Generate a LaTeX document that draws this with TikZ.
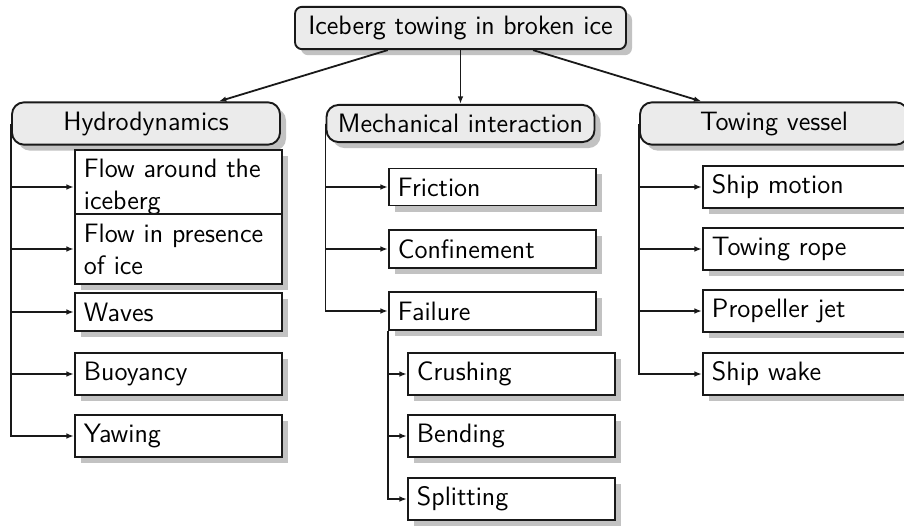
\documentclass[tikz,border=0pt]{standalone}
\usetikzlibrary{shadows,arrows.meta}
\renewcommand\familydefault{\sfdefault}
\begin{document}
\begin{tikzpicture}[x=0.5pt,y=-0.5pt,
  every node/.style={font=\fontsize{13.3}{16}\selectfont\sffamily, draw=black!90, line width=0.95pt, inner xsep=4.5pt, inner ysep=4.6pt},
  shad/.style={drop shadow={shadow xshift=3pt,shadow yshift=-3pt,fill=black!24,opacity=1}},
  topbox/.style={shad, fill=black!8, rounded corners=3.5pt, minimum width=165.5pt},
  catbox/.style={shad, fill=black!8, rounded corners=6pt, minimum width=134pt},
  leaf/.style={shad, fill=white, anchor=west, text width=94.5pt, align=left},
  arr/.style={line width=0.9pt, draw=black!90, -{Latex[length=3.8pt,width=2.8pt]}}]
\useasboundingbox (0,0) rectangle (904,525);
\clip (0,0) rectangle (904,525);

\node[topbox] (top) at (460.5,28) {Iceberg towing in broken ice};
\node[catbox] (hydro) at (146,123.5) {Hydrodynamics};
\node[catbox] (mech) at (460.5,123.5) {Mechanical interaction};
\node[catbox] (tow) at (774,123.5) {Towing vessel};

% Hydrodynamics leaves
\node[leaf] (flowa) at (74,187) {Flow around the\\iceberg};
\node[leaf] (flowb) at (74,249) {Flow in presence\\of ice};
\node[leaf] (waves) at (74,312) {Waves};
\node[leaf] (buoy) at (74,374) {Buoyancy};
\node[leaf] (yaw) at (74,436) {Yawing};

% Mechanical interaction leaves
\node[leaf] (fric) at (388,187) {Friction};
\node[leaf] (conf) at (388,249) {Confinement};
\node[leaf] (fail) at (388,311) {Failure};
\node[leaf] (crush) at (407,374) {Crushing};
\node[leaf] (bend) at (407,436) {Bending};
\node[leaf] (split) at (407,499) {Splitting};

% Towing vessel leaves
\node[leaf] (ship) at (702,187) {Ship motion};
\node[leaf] (rope) at (702,249) {Towing rope};
\node[leaf] (prop) at (702,311) {Propeller jet};
\node[leaf] (wake) at (702,374) {Ship wake};

% connectors from the root
\draw[arr] (top) -- (hydro);
\draw[arr] (top) -- (mech);
\draw[arr] (top) -- (tow);

\foreach \c in {flowa,flowb,waves,buoy,yaw}
  \draw[arr] (hydro.west) |- (\c.west);
\foreach \c in {fric,conf,fail}
  \draw[arr] (mech.west) |- (\c.west);
\foreach \c in {crush,bend,split}
  \draw[arr] (fail.south west) |- (\c.west);
\foreach \c in {ship,rope,prop,wake}
  \draw[arr] (tow.west) |- (\c.west);
\end{tikzpicture}
\end{document}
